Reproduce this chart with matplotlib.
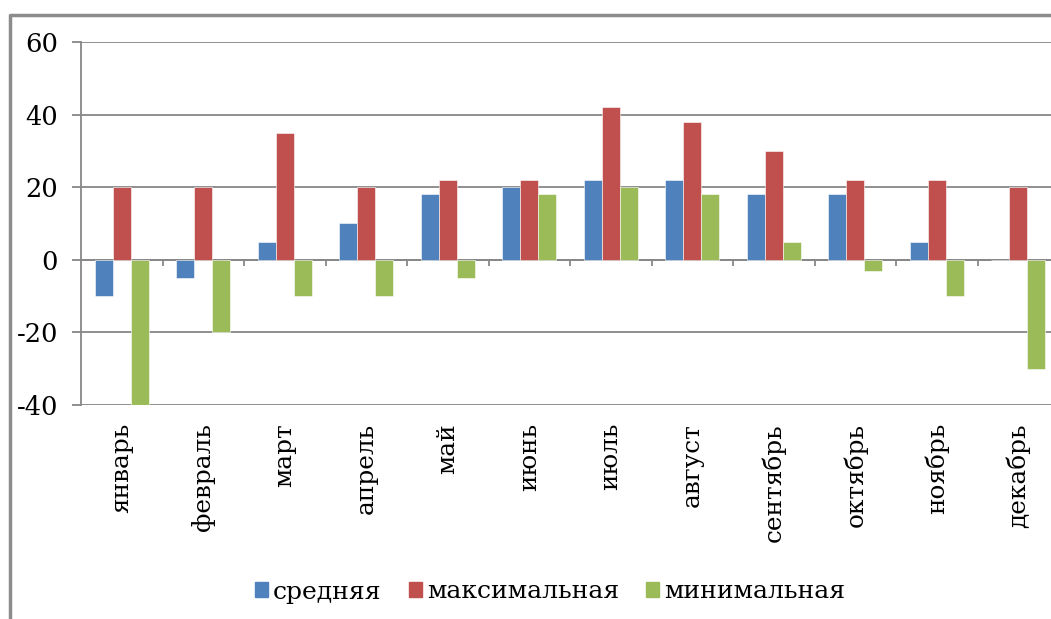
import matplotlib
matplotlib.use("Agg")
import matplotlib.pyplot as plt
from matplotlib.lines import Line2D
from matplotlib.patches import Patch
import numpy as np

months = ["январь", "февраль", "март", "апрель", "май", "июнь",
          "июль", "август", "сентябрь", "октябрь", "ноябрь", "декабрь"]
avg_t = [-10, -5, 5, 10, 18, 20, 22, 22, 18, 18, 5, 0]
max_t = [20, 20, 35, 20, 22, 22, 42, 38, 30, 22, 22, 20]
min_t = [-40, -20, -10, -10, -5, 18, 20, 18, 5, -3, -10, -30]
series_names = ["средняя", "максимальная", "минимальная"]

colors = ["#4F81BD", "#C0504D", "#9BBB59"]
grid_col = "#878787"

plt.rcParams['font.family'] = ['DejaVu Serif']
plt.rcParams['axes.unicode_minus'] = False

fig = plt.figure(figsize=(10.51, 6.19), dpi=100)
W, H = 1051, 619
ax = fig.add_axes([81 / W, 1 - 405 / H, 978 / W, 363 / H])

x = np.arange(len(months))
w = 0.222
for i, vals in enumerate([avg_t, max_t, min_t]):
    ax.bar(x + (i - 1) * w, vals, w, color=colors[i], zorder=3,
           edgecolor="white", linewidth=0.4)

ax.set_xlim(-0.5, len(months) - 0.5)
ax.set_ylim(-40, 60)
ax.set_yticks(range(-40, 61, 20))
ax.yaxis.grid(True, color=grid_col, linewidth=1.3, zorder=0)
ax.set_axisbelow(True)

for s in ["top", "right", "bottom"]:
    ax.spines[s].set_visible(False)
ax.spines["left"].set_color(grid_col)
ax.spines["left"].set_linewidth(1.3)

# zero line with category separators
ax.axhline(0, color=grid_col, linewidth=1.3, zorder=2)
bounds = np.arange(0.5, len(months) - 0.5, 1)
ax.vlines(bounds, -1.8, 0, color=grid_col, linewidth=1.3, zorder=2)

ax.set_xticks(x)
ax.set_xticklabels(months, rotation=90, va="top", ha="center", fontsize=17.8)
ax.tick_params(axis="x", length=0, pad=13)
ax.tick_params(axis="y", length=6.5, width=1.3, color=grid_col, pad=10,
               labelsize=18.5)

# chart border
fig.add_artist(Line2D([10 / W, 10 / W, 1.0], [0, 1 - 15 / H, 1 - 15 / H],
                      transform=fig.transFigure, color="#8c8c8c", linewidth=2.5))

handles = [Patch(color=c) for c in colors]
fig.legend(handles, series_names, loc="center", ncol=3,
           bbox_to_anchor=(550 / W, 1 - 592 / H), frameon=False,
           fontsize=18, handlelength=0.52, handleheight=0.52,
           handletextpad=0.2, columnspacing=1.1)

fig.savefig("out.png", dpi=100)
